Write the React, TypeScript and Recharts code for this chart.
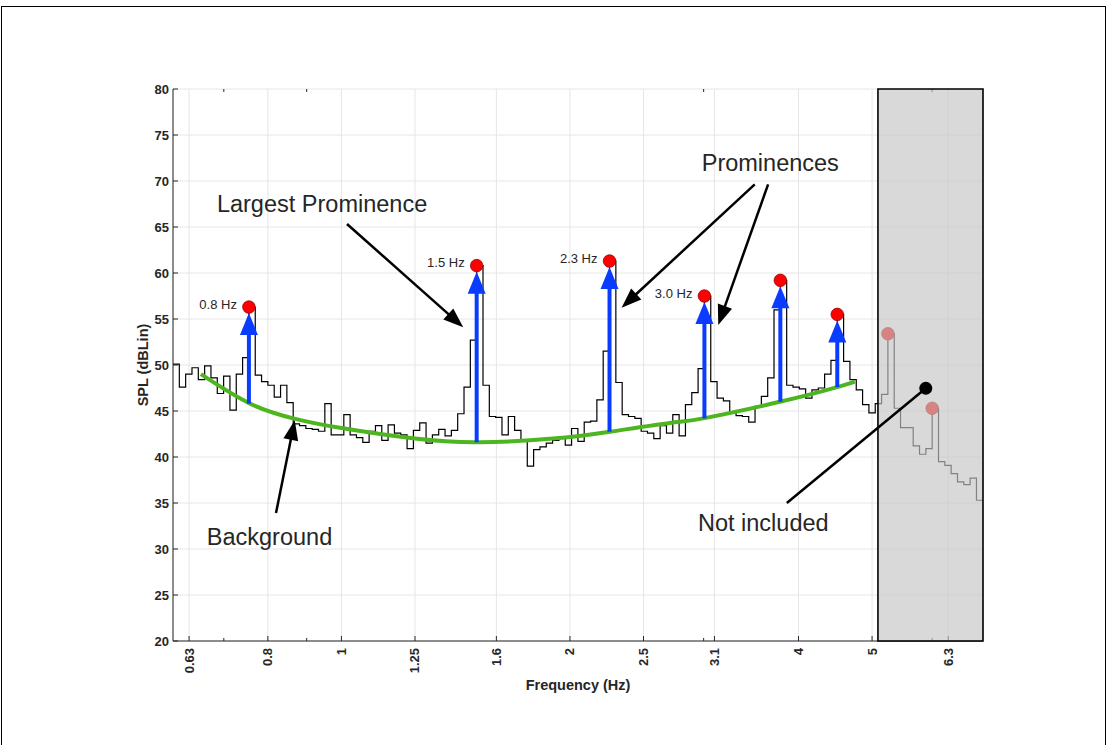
import React from 'react';
import {
  ComposedChart,
  Line,
  Scatter,
  XAxis,
  YAxis,
  CartesianGrid,
  ReferenceLine,
  ReferenceArea,
} from 'recharts';

// SPL per band; stairs start at 0.6 Hz, 120 bands per decade
const levels = [
  50.1, 47.6, 49.0, 49.7, 48.4, 49.9, 48.6, 46.9, 48.8, 45.1,
  49.0, 50.8, 56.3, 48.9, 48.2, 47.8, 46.5, 47.8, 45.9, 43.6,
  43.4, 43.1, 43.0, 42.8, 45.8, 42.4, 42.4, 44.6, 42.4, 42.1,
  41.6, 42.8, 43.4, 41.8, 43.5, 42.6, 42.4, 40.9, 42.9, 43.7,
  41.5, 42.4, 43.0, 42.3, 42.9, 44.7, 47.6, 52.7, 60.8, 47.8,
  44.4, 44.3, 42.4, 44.4, 42.9, 41.9, 39.0, 40.8, 41.1, 41.5,
  41.8, 42.2, 41.3, 43.1, 41.7, 43.8, 43.9, 46.2, 51.5, 61.3,
  48.1, 44.6, 44.4, 44.2, 42.8, 42.6, 42.0, 43.4, 42.6, 44.6,
  42.3, 45.7, 47.0, 49.6, 57.5, 48.2, 46.4, 46.1, 44.9, 44.5,
  44.4, 43.8, 45.5, 46.6, 48.6, 56.0, 59.2, 47.8, 47.6, 47.4,
  46.4, 47.3, 47.5, 49.0, 50.5, 55.5, 50.4, 48.4, 47.3, 45.7,
  44.8, 45.8, 46.8, 53.4, 45.3, 43.2, 43.2, 41.2, 40.3, 40.9,
  45.3, 39.5, 39.1, 38.2, 37.3, 37.0, 37.7, 35.3,
];

// fitted background
const bgFreqs = [0.653, 0.758, 0.864, 0.991, 1.25, 1.52, 1.9, 2.258, 2.707, 2.996, 3.78, 4.497, 4.745];
const bgLevels = [49.0, 45.8, 44.2, 43.2, 42.0, 41.6, 42.0, 42.75, 43.7, 44.2, 46.0, 47.6, 48.2];

// peaks (band index), labels and the background level under each arrow
const peakBands = [12, 48, 69, 84, 96, 105, 113, 120];
const peakLabels = ['0.8 Hz', '1.5 Hz', '2.3 Hz', '3.0 Hz', '', '', '', ''];
const arrowBases = [45.8, 41.6, 42.75, 44.2, 46.0, 47.6];

const excludedFrom = 5.09;

// annotation texts
const noteTexts = ['Largest Prominence', 'Prominences', 'Background', 'Not included'];
const noteFreqs = [0.943, 3.672, 0.804, 3.595];
const noteLevels = [67.5, 72.0, 31.3, 32.8];

// annotation arrows: [f1, db1, f2, db2]
const noteArrows = [
  [1.017, 65.33, 1.447, 54.1],
  [3.503, 69.64, 2.339, 56.23],
  [3.648, 69.64, 3.136, 54.35],
  [0.82, 33.9, 0.868, 44.0],
];
const excludedPointer = [3.861, 35.0, 5.885, 47.47];

const freqTicks = [0.63, 0.8, 1, 1.25, 1.6, 2, 2.5, 3.1, 4, 5, 6.3];
const minorTicks = [0.7, 0.9, 3, 6];
const splTicks = [20, 25, 30, 35, 40, 45, 50, 55, 60, 65, 70, 75, 80];

const bandEdges = Array.from({ length: levels.length + 1 }, (_, i) => 0.6 * 10 ** (i / 120));
const stairs = bandEdges.map((f, i) => ({ f, db: levels[Math.min(i, levels.length - 1)] }));
const background = bgFreqs.map((f, i) => ({ f, db: bgLevels[i] }));
const peaks = peakBands.map((b, i) => ({ f: bandEdges[b], db: levels[b], label: peakLabels[i] }));
const notes = noteTexts.map((text, i) => ({ f: noteFreqs[i], db: noteLevels[i], text }));

const axisColor = '#262626';
const fontFamily = '"Liberation Sans", Arial, Helvetica, sans-serif';

const arrowShape = (color: string, width: number, head: number, headW: number, gap: number, endDot = false) =>
  (p: any) => {
    const { x1, y1, x2, y2 } = p;
    const dx = x2 - x1;
    const dy = y2 - y1;
    const len = Math.hypot(dx, dy) || 1;
    const ux = dx / len;
    const uy = dy / len;
    if (endDot) {
      return (
        <g>
          <line x1={x1} y1={y1} x2={x2} y2={y2} stroke={color} strokeWidth={width} />
          <circle cx={x2} cy={y2} r={6.5} fill={color} />
        </g>
      );
    }
    const tx = x2 - ux * gap;
    const ty = y2 - uy * gap;
    const bx = tx - ux * head;
    const by = ty - uy * head;
    const px = -uy * headW / 2;
    const py = ux * headW / 2;
    return (
      <g>
        <line x1={x1} y1={y1} x2={bx + ux} y2={by + uy} stroke={color} strokeWidth={width} />
        <polygon points={`${tx},${ty} ${bx + px},${by + py} ${bx - px},${by - py}`} fill={color} />
      </g>
    );
  };

const FreqTick = (props: any) => {
  const { x, y, payload } = props;
  return (
    <text
      x={x}
      y={y}
      transform={`rotate(-90 ${x} ${y})`}
      textAnchor="end"
      dominantBaseline="central"
      fontSize={13}
      fontWeight="bold"
      fill={axisColor}
    >
      {String(payload.value)}
    </text>
  );
};

const PeakDot = (props: any) => {
  const { cx, cy, payload } = props;
  return (
    <g>
      <circle cx={cx} cy={cy} r={6.3} fill="#ff0000" stroke="#8a0000" strokeWidth={0.7} />
      {payload.label ? (
        <text x={cx - 12} y={cy - 3} textAnchor="end" dominantBaseline="central" fontSize={13} fill={axisColor}>
          {payload.label}
        </text>
      ) : null}
    </g>
  );
};

const NoteText = (props: any) => {
  const { cx, cy, payload } = props;
  return (
    <text x={cx} y={cy} textAnchor="middle" dominantBaseline="central" fontSize={23.5} fill={axisColor}>
      {payload.text}
    </text>
  );
};

const blueArrow = arrowShape('#0a3cff', 4, 22, 18, 6);
const blackArrow = arrowShape('#000000', 2.5, 20, 15, 0);
const pointer = arrowShape('#000000', 2.5, 0, 0, 0, true);

const App: React.FC = () => {
  return (
    <div
      style={{
        position: 'absolute',
        left: 0,
        top: 0,
        width: 1107,
        height: 745,
        overflow: 'hidden',
        background: '#fff',
        fontFamily,
      }}
    >
      <div
        style={{
          position: 'absolute',
          left: 1,
          top: 6,
          width: 1103,
          height: 800,
          border: '1px solid #000',
        }}
      />
      <div style={{ position: 'absolute', left: 0, top: 0 }}>
        <ComposedChart width={1107} height={745} margin={{ top: 89, right: 124, bottom: 44, left: 113 }}>
          <CartesianGrid stroke="#e6e6e6" />
          <XAxis
            dataKey="f"
            type="number"
            scale="log"
            domain={[0.6, 7]}
            allowDataOverflow
            ticks={freqTicks}
            interval={0}
            tick={(p: any) => <FreqTick {...p} />}
            tickSize={-5}
            tickMargin={12}
            height={60}
            stroke={axisColor}
            label={{
              value: 'Frequency (Hz)',
              position: 'insideBottom',
              offset: 11,
              fill: axisColor,
              fontSize: 14.5,
              fontWeight: 'bold',
            }}
          />
          <XAxis
            xAxisId="top"
            orientation="top"
            dataKey="f"
            type="number"
            scale="log"
            domain={[0.6, 7]}
            allowDataOverflow
            ticks={freqTicks}
            interval={0}
            tick={false}
            tickSize={-5}
            height={0}
            stroke={axisColor}
          />
          <YAxis
            type="number"
            domain={[20, 80]}
            allowDataOverflow
            ticks={splTicks}
            interval={0}
            tickSize={-5}
            tickMargin={9}
            width={60}
            stroke={axisColor}
            tick={{ fill: axisColor, fontSize: 13, fontWeight: 'bold' }}
            label={{
              value: 'SPL (dBLin)',
              angle: -90,
              position: 'center',
              fill: axisColor,
              fontSize: 14.5,
              fontWeight: 'bold',
            }}
          />
          <YAxis
            yAxisId="right"
            orientation="right"
            type="number"
            domain={[20, 80]}
            ticks={splTicks}
            interval={0}
            tick={false}
            tickSize={-5}
            width={0}
            stroke={axisColor}
          />
          {minorTicks.map((f) => (
            <ReferenceLine key={`mb${f}`} segment={[{ x: f, y: 20 }, { x: f, y: 20.33 }]} stroke={axisColor} />
          ))}
          {minorTicks.map((f) => (
            <ReferenceLine key={`mt${f}`} segment={[{ x: f, y: 80 }, { x: f, y: 79.67 }]} stroke={axisColor} />
          ))}
          <Line
            data={stairs}
            dataKey="db"
            type="stepAfter"
            stroke="#000"
            strokeWidth={1.2}
            dot={false}
            activeDot={false}
            isAnimationActive={false}
            zIndex={400}
          />
          <Line
            data={background}
            dataKey="db"
            type="natural"
            stroke="#4cb51f"
            strokeWidth={4}
            dot={false}
            activeDot={false}
            isAnimationActive={false}
            zIndex={410}
          />
          {arrowBases.map((b, i) => (
            <ReferenceLine
              key={`pa${i}`}
              segment={[{ x: peaks[i].f, y: b }, { x: peaks[i].f, y: peaks[i].db }]}
              shape={blueArrow}
              zIndex={450}
            />
          ))}
          <Scatter
            data={peaks}
            dataKey="db"
            shape={(p: any) => <PeakDot {...p} />}
            isAnimationActive={false}
            zIndex={600}
          />
          <ReferenceArea
            x1={excludedFrom}
            x2={7}
            y1={20}
            y2={80}
            fill="#c5c5c5"
            fillOpacity={0.66}
            stroke="#000"
            strokeWidth={1.6}
            zIndex={700}
          />
          {noteArrows.map((a, i) => (
            <ReferenceLine
              key={`na${i}`}
              segment={[{ x: a[0], y: a[1] }, { x: a[2], y: a[3] }]}
              shape={blackArrow}
              zIndex={800}
            />
          ))}
          <ReferenceLine
            segment={[
              { x: excludedPointer[0], y: excludedPointer[1] },
              { x: excludedPointer[2], y: excludedPointer[3] },
            ]}
            shape={pointer}
            zIndex={800}
          />
          <Scatter
            data={notes}
            dataKey="db"
            shape={(p: any) => <NoteText {...p} />}
            isAnimationActive={false}
            zIndex={900}
          />
        </ComposedChart>
      </div>
    </div>
  );
};

export default App;
